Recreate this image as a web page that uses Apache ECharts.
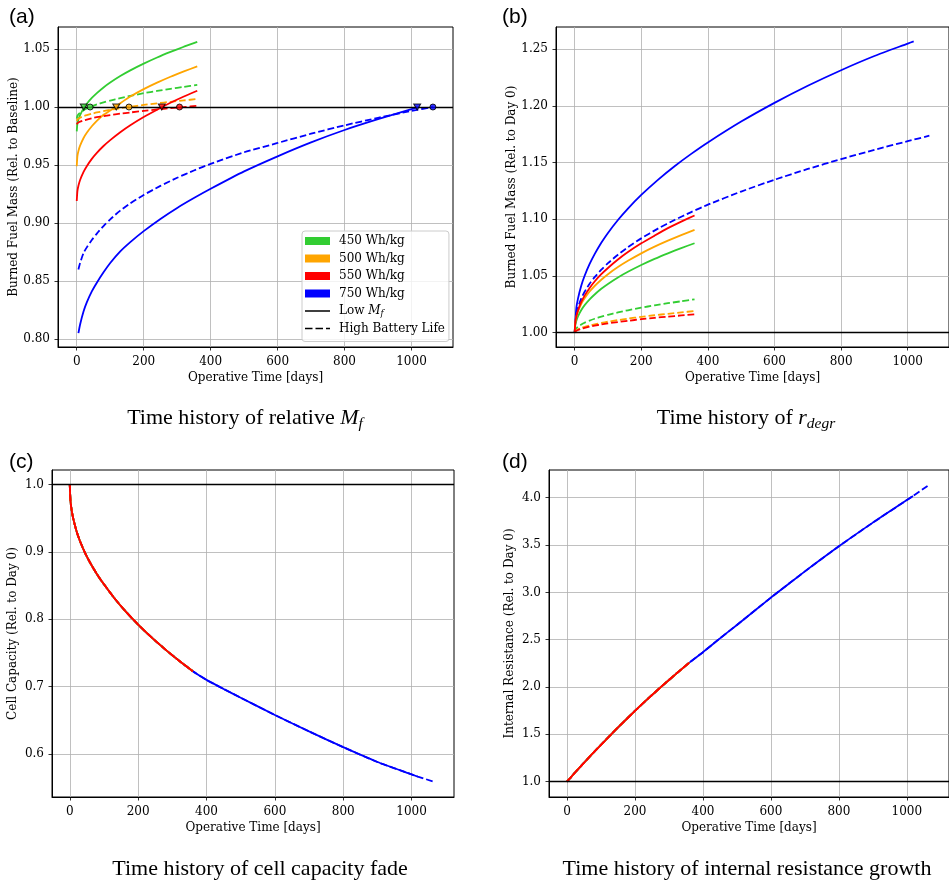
<!DOCTYPE html>
<html>
<head>
<meta charset="utf-8">
<script src="https://cdn.jsdelivr.net/npm/echarts@6/dist/echarts.min.js"></script>
<style>
html,body{margin:0;padding:0;background:#fff;}
#chart{width:949px;height:882px;}
</style>
</head>
<body>
<div id="chart"></div>
<script>
// ---------------- DATA ----------------
// common day grid for the 450/500/550 Wh/kg cases (one year)
const daysShort = [0,2,5,10,20,30,45,60,80,100,130,160,200,240,280,320,360];

// (a) burned fuel mass relative to baseline
const mfLow450  = [0.979,0.9856,0.9892,0.9931,0.9986,1.0028,1.0078,1.0120,1.0169,1.0211,1.0267,1.0316,1.0374,1.0427,1.0475,1.0520,1.0562];
const mfLow500  = [0.949,0.9577,0.9621,0.9667,0.9731,0.9778,0.9834,0.9881,0.9933,0.9970,1.0032,1.0090,1.0154,1.0210,1.0261,1.0307,1.0351];
const mfLow550  = [0.919,0.9275,0.9321,0.9371,0.9439,0.9490,0.9553,0.9605,0.9664,0.9715,0.9783,0.9843,0.9914,0.9977,1.0037,1.0091,1.0140];
const mfHigh450 = [0.990,0.9924,0.9937,0.9951,0.9971,0.9987,1.0006,1.0022,1.0040,1.0056,1.0077,1.0096,1.0119,1.0139,1.0157,1.0174,1.0191];
const mfHigh500 = [0.988,0.9892,0.9900,0.9909,0.9921,0.9930,0.9942,0.9953,0.9965,0.9976,0.9990,1.0003,1.0018,1.0032,1.0045,1.0057,1.0069];
const mfHigh550 = [0.985,0.9860,0.9867,0.9874,0.9884,0.9892,0.9903,0.9912,0.9922,0.9931,0.9943,0.9953,0.9967,0.9979,0.9990,1.0000,1.0010];
const daysA750Low  = [5,10,20,30,45,60,80,100,130,160,200,250,300,350,400,500,600,700,800,900,1000,1018];
const mfLow750     = [0.805,0.8125,0.8235,0.8315,0.8410,0.8485,0.8575,0.8655,0.8755,0.8835,0.8930,0.9035,0.9130,0.9215,0.9295,0.9445,0.9575,0.9695,0.9802,0.9895,0.9982,1.0];
const daysA750High = [5,10,20,30,45,60,80,100,130,160,200,250,300,350,400,500,600,700,800,900,1000,1064];
const mfHigh750    = [0.860,0.8655,0.874,0.879,0.8853,0.8909,0.8974,0.9032,0.9107,0.9170,0.9242,0.9320,0.9390,0.9453,0.9510,0.9610,0.9690,0.9770,0.9842,0.9907,0.9967,1.0];
// break-even markers (day where each curve reaches the baseline)
const markLowDays  = [21, 118, 254, 1017];
const markHighDays = [40, 156, 307, 1064];
const markValue = 1.0;

// (b) degradation ratio relative to day 0
const rdLow450  = [1.0,1.0067,1.0104,1.0144,1.0200,1.0243,1.0294,1.0337,1.0387,1.0430,1.0487,1.0537,1.0597,1.0651,1.0700,1.0746,1.0789];
const rdLow500  = [1.0,1.0092,1.0138,1.0187,1.0254,1.0303,1.0363,1.0412,1.0467,1.0516,1.0579,1.0634,1.0700,1.0759,1.0812,1.0861,1.0907];
const rdLow550  = [1.0,1.0093,1.0143,1.0197,1.0271,1.0327,1.0395,1.0452,1.0516,1.0571,1.0645,1.0711,1.0788,1.0856,1.0922,1.0980,1.1034];
const rdHigh450 = [1.0,1.0024,1.0037,1.0052,1.0072,1.0088,1.0107,1.0123,1.0141,1.0158,1.0179,1.0198,1.0221,1.0241,1.0260,1.0277,1.0294];
const rdHigh500 = [1.0,1.0012,1.0020,1.0029,1.0041,1.0051,1.0063,1.0074,1.0086,1.0097,1.0111,1.0124,1.0140,1.0154,1.0167,1.0179,1.0191];
const rdHigh550 = [1.0,1.0010,1.0017,1.0024,1.0035,1.0043,1.0054,1.0063,1.0073,1.0082,1.0094,1.0105,1.0119,1.0131,1.0142,1.0152,1.0162];
const daysB750Low  = [0,5,10,20,30,45,60,80,100,130,160,200,250,300,350,400,500,600,700,800,900,1000,1018];
const rdLow750     = [1.0,1.0218,1.0301,1.0416,1.0502,1.0606,1.0693,1.0793,1.0880,1.0994,1.1095,1.1215,1.1348,1.1468,1.1577,1.1678,1.1862,1.2027,1.2178,1.2315,1.2440,1.2550,1.2570];
const daysB750High = [0,5,10,20,30,45,60,80,100,130,160,200,250,300,350,400,500,600,700,800,900,1000,1065];
const rdHigh750    = [1.0,1.0164,1.0223,1.0302,1.0361,1.0432,1.0490,1.0556,1.0613,1.0688,1.0754,1.0832,1.0918,1.0994,1.1064,1.1129,1.1245,1.1349,1.1444,1.1531,1.1613,1.1689,1.1737];

// (c) cell capacity and (d) internal resistance, relative to day 0
const daysLong750 = [0,2,5,10,20,30,45,60,80,100,130,160,200,240,280,320,360,400,450,500,600,700,800,900,1000,1018,1065];
const capShort = [1.0,0.9765,0.9638,0.9499,0.9305,0.916,0.8983,0.8836,0.8667,0.852,0.8317,0.8137,0.7921,0.7727,0.755,0.7383,0.7228];
const cap750   = [1.0,0.9765,0.9638,0.9499,0.9305,0.916,0.8983,0.8836,0.8667,0.852,0.8317,0.8137,0.7921,0.7727,0.755,0.7383,0.7228,0.7100,0.6965,0.6835,0.6578,0.6335,0.6100,0.5880,0.5695,0.5663,0.5588];
const resShort = [1.0,1.009,1.021,1.041,1.082,1.122,1.181,1.239,1.315,1.39,1.5,1.608,1.748,1.883,2.012,2.137,2.258];
const res750   = [1.0,1.009,1.021,1.041,1.082,1.122,1.181,1.239,1.315,1.39,1.5,1.608,1.748,1.883,2.012,2.137,2.258,2.368,2.514,2.656,2.945,3.222,3.487,3.737,3.975,4.018,4.135];

// tick labels
const xTicks  = [0,200,400,600,800,1000];
const yTicksA = [0.80,0.85,0.90,0.95,1.00,1.05];
const yTicksB = [1.00,1.05,1.10,1.15,1.20,1.25];
const yTicksC = [0.6,0.7,0.8,0.9,1.0];
const yTicksD = [1.0,1.5,2.0,2.5,3.0,3.5,4.0];

const legendNames = ['450 Wh/kg','500 Wh/kg','550 Wh/kg','750 Wh/kg','Low M_f','High Battery Life'];

// ---------------- STYLE / BUILD ----------------
const GREEN='#32cd32', ORANGE='#ffa500', RED='#ff0000', BLUE='#0000ff';
const DASH=[6.7,2.9];
const SERIF='DejaVu Serif';

function pairs(xs, ys){ return xs.map((x,i)=>[x, ys[i]]); }
function ln(name, g, xs, ys, color, dashed, extra){
  return Object.assign({
    type:'line', name:name, xAxisIndex:g, yAxisIndex:g, data:pairs(xs,ys),
    symbol:'none', showSymbol:false, silent:true, animation:false, z:2, smooth:0.2,
    lineStyle:{color:color, width:1.8, type: dashed?DASH:'solid', cap:'butt'},
    itemStyle:{color:color}
  }, extra||{});
}
function baseLine(){
  return {markLine:{silent:true, symbol:'none', animation:false, label:{show:false},
    lineStyle:{color:'#000', width:1.3, type:'solid'}, data:[{yAxis:1}]}};
}
function xAx(g, min, max){
  return {type:'value', gridIndex:g, min:min, max:max,
    name:'Operative Time [days]', nameLocation:'middle', nameGap:25,
    nameTextStyle:{fontFamily:SERIF, fontSize:12, color:'#000'},
    axisLine:{show:true, onZero:false, lineStyle:{color:'#000', width:1}},
    axisTick:{show:true, inside:false, length:3.5, lineStyle:{color:'#000', width:0.8}, customValues:xTicks},
    axisLabel:{customValues:xTicks, margin:8.5, fontFamily:SERIF, fontSize:12, color:'#000', formatter:v=>String(Math.round(v))},
    splitLine:{show:true, lineStyle:{color:'#b0b0b0', width:0.8}}
  };
}
function yAx(g, min, max, ticks, dec, name, gap){
  return {type:'value', gridIndex:g, min:min, max:max,
    name:name, nameLocation:'middle', nameGap:gap,
    nameTextStyle:{fontFamily:SERIF, fontSize:12, color:'#000'},
    axisLine:{show:true, onZero:false, lineStyle:{color:'#000', width:1}},
    axisTick:{show:true, inside:false, length:3.5, lineStyle:{color:'#000', width:0.8}, customValues:ticks},
    axisLabel:{customValues:ticks, margin:8, fontFamily:SERIF, fontSize:12, color:'#000', formatter:v=>v.toFixed(dec)},
    splitLine:{show:true, lineStyle:{color:'#b0b0b0', width:0.8}}
  };
}
function markers(days, color, tri){
  return {type:'scatter', xAxisIndex:0, yAxisIndex:0, silent:true, animation:false, z:6,
    data: days.map(d=>[d, markValue]),
    symbol: tri?'triangle':'circle', symbolRotate: tri?180:0, symbolSize: tri?[7,6]:6,
    itemStyle:{color:color, borderColor:'#000', borderWidth:1}};
}

const series = [];
// (a)
series.push(ln('750 Wh/kg',0,daysA750Low,mfLow750,BLUE,false));
series.push(ln('750 Wh/kg',0,daysA750High,mfHigh750,BLUE,true));
series.push(ln('450 Wh/kg',0,daysShort,mfLow450,GREEN,false));
series.push(ln('450 Wh/kg',0,daysShort,mfHigh450,GREEN,true));
series.push(ln('500 Wh/kg',0,daysShort,mfLow500,ORANGE,false));
series.push(ln('500 Wh/kg',0,daysShort,mfHigh500,ORANGE,true));
series.push(ln('550 Wh/kg',0,daysShort,mfLow550,RED,false));
series.push(ln('550 Wh/kg',0,daysShort,mfHigh550,RED,true,baseLine()));
const markColors=[GREEN,ORANGE,RED,BLUE];
markColors.forEach((c,i)=>{
  series.push(markers([markLowDays[i]], c, true));
  series.push(markers([markHighDays[i]], c, false));
});
series.push({type:'line', name:'Low M_f', xAxisIndex:0, yAxisIndex:0, data:[], itemStyle:{color:'#000'}, lineStyle:{color:'#000'}});
series.push({type:'line', name:'High Battery Life', xAxisIndex:0, yAxisIndex:0, data:[], itemStyle:{color:'#000'}, lineStyle:{color:'#000', type:'dashed'}});
// (b)
series.push(ln('750 Wh/kg',1,daysB750Low,rdLow750,BLUE,false));
series.push(ln('750 Wh/kg',1,daysB750High,rdHigh750,BLUE,true));
series.push(ln('450 Wh/kg',1,daysShort,rdLow450,GREEN,false));
series.push(ln('450 Wh/kg',1,daysShort,rdHigh450,GREEN,true));
series.push(ln('500 Wh/kg',1,daysShort,rdLow500,ORANGE,false));
series.push(ln('500 Wh/kg',1,daysShort,rdHigh500,ORANGE,true));
series.push(ln('550 Wh/kg',1,daysShort,rdLow550,RED,false));
series.push(ln('550 Wh/kg',1,daysShort,rdHigh550,RED,true,baseLine()));
// (c)
series.push(ln('750 Wh/kg',2,daysLong750.slice(0,-1),cap750.slice(0,-1),BLUE,false));
series.push(ln('750 Wh/kg',2,daysLong750,cap750,BLUE,true));
[[GREEN,'450 Wh/kg'],[ORANGE,'500 Wh/kg'],[RED,'550 Wh/kg']].forEach(([c,n],k)=>{
  series.push(ln(n,2,daysShort,capShort,c,false));
  series.push(ln(n,2,daysShort,capShort,c,true, k===2?baseLine():undefined));
});
// (d)
series.push(ln('750 Wh/kg',3,daysLong750.slice(0,-1),res750.slice(0,-1),BLUE,false));
series.push(ln('750 Wh/kg',3,daysLong750,res750,BLUE,true));
[[GREEN,'450 Wh/kg'],[ORANGE,'500 Wh/kg'],[RED,'550 Wh/kg']].forEach(([c,n],k)=>{
  series.push(ln(n,3,daysShort,resShort,c,false));
  series.push(ln(n,3,daysShort,resShort,c,true, k===2?baseLine():undefined));
});

const lineIcon = 'path://M0,0L0.1,0L0.1,0.1Z M0,3.2L25,3.2L25,4.8L0,4.8Z M24.9,7.9L25,7.9L25,8Z';
const dashIcon = 'path://M0,0L0.1,0L0.1,0.1Z M0,3.2L7.5,3.2L7.5,4.8L0,4.8Z M10.5,3.2L18,3.2L18,4.8L10.5,4.8Z M21,3.2L25,3.2L25,4.8L21,4.8Z M24.9,7.9L25,7.9L25,8Z';
const legendColors=[GREEN,ORANGE,RED,BLUE,'#000','#000'];
const legendIcons=['rect','rect','rect','rect',lineIcon,dashIcon];

const capFont = 'Liberation Serif';
const capRich = {n:{fontFamily:capFont, fontSize:22, lineHeight:27}, i:{fontFamily:capFont, fontStyle:'italic', fontSize:22, lineHeight:27}, s:{fontFamily:capFont, fontStyle:'italic', fontSize:15.5, lineHeight:14, verticalAlign:'bottom'}};
const option = {
  backgroundColor:'#ffffff',
  animation:false,
  grid:[
    {left:58, top:27, width:395, height:320, show:true, borderColor:'#000', borderWidth:1, containLabel:false},
    {left:556, top:27, width:396, height:320, show:true, borderColor:'#000', borderWidth:1, containLabel:false},
    {left:52, top:470, width:402, height:327, show:true, borderColor:'#000', borderWidth:1, containLabel:false},
    {left:549, top:470, width:403, height:327, show:true, borderColor:'#000', borderWidth:1, containLabel:false}
  ],
  xAxis:[ xAx(0,-56,1124), xAx(1,-56,1124), xAx(2,-52,1124), xAx(3,-53,1124) ],
  yAxis:[
    yAx(0,0.7931,1.069,yTicksA,2,'Burned Fuel Mass (Rel. to Baseline)',38),
    yAx(1,0.9874,1.2696,yTicksB,2,'Burned Fuel Mass (Rel. to Day 0)',38),
    yAx(2,0.536,1.0218,yTicksC,1,'Cell Capacity (Rel. to Day 0)',33),
    yAx(3,0.838,4.293,yTicksD,1,'Internal Resistance (Rel. to Day 0)',33)
  ],
  legend:{
    orient:'vertical', left:302, top:231, itemWidth:25, itemHeight:8, itemGap:3.5,
    padding:[3,4,6,3], backgroundColor:'rgba(255,255,255,0.8)', borderColor:'#cccccc', borderWidth:1, borderRadius:3,
    selectedMode:false, itemStyle:{borderWidth:0},
    textStyle:{fontFamily:SERIF, fontSize:12, color:'#000', lineHeight:14, padding:[0,0,0,4],
      rich:{
        t:{fontFamily:SERIF, fontSize:12, lineHeight:14, color:'#000'},
        i:{fontFamily:SERIF, fontStyle:'italic', fontSize:12, lineHeight:14, color:'#000'},
        s:{fontFamily:SERIF, fontStyle:'italic', fontSize:8.5, lineHeight:8, verticalAlign:'bottom', color:'#000'}
      }},
    formatter: n => n==='Low M_f' ? '{t|Low }{i|M}{s|f}' : n,
    data: legendNames.map((n,i)=>({name:n, icon:legendIcons[i], itemStyle:{color:legendColors[i], borderWidth:0}}))
  },
  graphic:[
    {type:'text', x:9, y:17, silent:true, style:{text:'(a)', fontFamily:'Liberation Sans', fontSize:21, fill:'#000', align:'left', verticalAlign:'middle'}},
    {type:'text', x:502, y:17, silent:true, style:{text:'(b)', fontFamily:'Liberation Sans', fontSize:21, fill:'#000', align:'left', verticalAlign:'middle'}},
    {type:'text', x:9, y:462, silent:true, style:{text:'(c)', fontFamily:'Liberation Sans', fontSize:21, fill:'#000', align:'left', verticalAlign:'middle'}},
    {type:'text', x:502, y:462, silent:true, style:{text:'(d)', fontFamily:'Liberation Sans', fontSize:21, fill:'#000', align:'left', verticalAlign:'middle'}},
    {type:'text', x:245, y:418, silent:true, style:{text:'{n|Time history of relative }{i|M}{s|f}', align:'center', verticalAlign:'middle', fill:'#000', rich:capRich}},
    {type:'text', x:746, y:418, silent:true, style:{text:'{n|Time history of }{i|r}{s|degr}', align:'center', verticalAlign:'middle', fill:'#000', rich:capRich}},
    {type:'text', x:260, y:869, silent:true, style:{text:'Time history of cell capacity fade', fontFamily:capFont, fontSize:22, fill:'#000', align:'center', verticalAlign:'middle'}},
    {type:'text', x:747, y:869, silent:true, style:{text:'Time history of internal resistance growth', fontFamily:capFont, fontSize:22, fill:'#000', align:'center', verticalAlign:'middle'}}
  ],
  series: series
};

const chart = echarts.init(document.getElementById('chart'), null, {renderer:'canvas'});
chart.setOption(option);
</script>
</body>
</html>
